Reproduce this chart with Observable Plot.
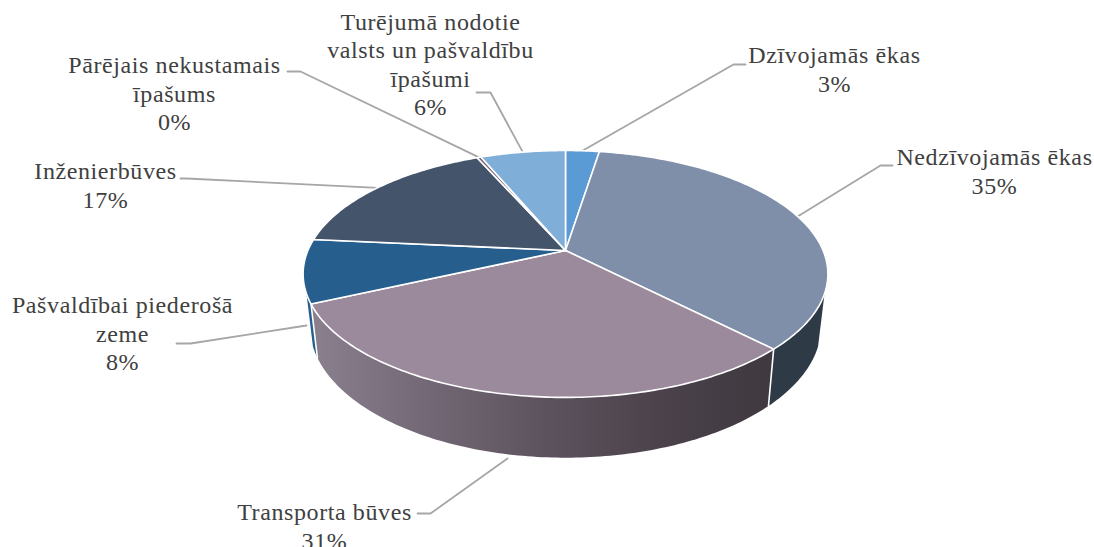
<!DOCTYPE html>
<html>
<head>
<meta charset="utf-8">
<style>html,body{margin:0;padding:0;background:#fff;overflow:hidden}svg{display:block}svg text{letter-spacing:.6px}</style>
<script src="https://cdn.jsdelivr.net/npm/d3@7"></script>
<script src="https://cdn.jsdelivr.net/npm/@observablehq/plot@0.6"></script>
</head>
<body>
<script>
// Data (shares in %)
const categories = ["Dzīvojamās ēkas","Nedzīvojamās ēkas","Transporta būves","Pašvaldībai piederošā\nzeme","Inženierbūves","Pārējais nekustamais\nīpašums","Turējumā nodotie\nvalsts un pašvaldību\nīpašumi"];
const shares = [2.5,35.2,30.5,8.3,16.9,0.3,6.3];
const topColors = ["#5b9bd5","#7f8fa9","#9b8a9c","#265e8e","#44546a","#7a6a7c","#7fafd9"];
const wallColors = [null,"#2f3a47","url(#wallGrad)","#265e8e",null,null,null];

// Layout of the annotations (not data)
const labelAt = [[834,68],[994,170],[324,525],[122,332],[105,184],[174,92],[430,63]];
const elbows = [[[733,64],[745,64]],[[880,165],[892,165]],[[430,513],[417,513]],[[190,343],[176,343]],[[186,178],[180,178]],[[300,71],[287,71]],[[490,92],[476,92]]];
const leaderFrom = [null,null,[507,458],[306,325],null,null,null];

// Perspective view of the pie disc
const cx = 565, cy = 250, a = 119, b = 257.6, k = 0.19;
function rim(pct) {
  const t = pct / 100 * 2 * Math.PI, u = Math.sin(t), v = Math.cos(t), w = 1 + k * v;
  return [cx + b * u / w, cy - a * v / w];
}
function floor(p) { return [cx + (p[0] - cx) * 0.975, cy + 50 + (p[1] - cy) * 1.07]; }
function arc(from, to) {
  const n = Math.max(2, Math.ceil((to - from) * 4)), out = [];
  for (let i = 0; i <= n; i++) out.push(rim(from + (to - from) * i / n));
  return out;
}
const starts = d3.cumsum([0, ...shares]);
const wallFrom = 30.5, wallTo = 69.5; // silhouette of the visible side

const topPts = [], wallPts = [], sepPts = [], leaderPts = [], labels = [];
categories.forEach((name, i) => {
  const s = starts[i], e = starts[i + 1];
  [[cx, cy], ...arc(s, e)].forEach(p => topPts.push({x: p[0], y: p[1], z: i, fill: topColors[i]}));
  const lo = Math.max(s, wallFrom), hi = Math.min(e, wallTo);
  if (hi > lo && wallColors[i]) {
    const r = arc(lo, hi);
    [...r, ...r.map(floor).reverse()].forEach(p => wallPts.push({x: p[0], y: p[1], z: i, fill: wallColors[i]}));
  }
  const from = leaderFrom[i] || rim((s + e) / 2);
  [from, ...elbows[i]].forEach(p => leaderPts.push({x: p[0], y: p[1], z: i}));
  labels.push({x: labelAt[i][0], y: labelAt[i][1], text: name + "\n" + Math.round(shares[i]) + "%"});
});
[starts[2], starts[3]].forEach((s, i) => {
  const p = rim(s);
  [p, floor(p)].forEach(q => sepPts.push({x: q[0], y: q[1], z: i}));
});

const gradient = () => {
  const g = d3.create("svg:defs");
  const lg = g.append("linearGradient").attr("id", "wallGrad").attr("gradientUnits", "userSpaceOnUse")
    .attr("x1", 310).attr("x2", 775).attr("y1", 0).attr("y2", 0);
  [[0,"#8b818e"],[0.25,"#736875"],[0.5,"#5d535e"],[0.75,"#4b424c"],[1,"#3f383e"]].forEach(([o,c]) => lg.append("stop").attr("offset", o).attr("stop-color", c));
  return g.node();
};

const chart = Plot.plot({
  width: 1094, height: 547, margin: 0,
  x: {domain: [0, 1094], range: [0, 1094], axis: null},
  y: {domain: [0, 547], range: [0, 547], axis: null},
  marks: [
    gradient,
    Plot.line(leaderPts, {x: "x", y: "y", z: "z", stroke: "#a6a6a6", strokeWidth: 1.8, curve: "linear"}),
    Plot.line(wallPts, {x: "x", y: "y", z: "z", fill: "fill", stroke: "none", curve: "linear-closed"}),
    Plot.line(sepPts, {x: "x", y: "y", z: "z", stroke: "#fff", strokeWidth: 1.6}),
    Plot.line(topPts, {x: "x", y: "y", z: "z", fill: "fill", stroke: "#fff", strokeWidth: 1.6, curve: "linear-closed"}),
    Plot.text(labels, {x: "x", y: "y", text: "text", fontSize: 24, lineHeight: 1.19, fill: "#404040", fontFamily: "Liberation Serif", textAnchor: "middle"})
  ]
});
document.body.append(chart);
</script>
</body>
</html>
